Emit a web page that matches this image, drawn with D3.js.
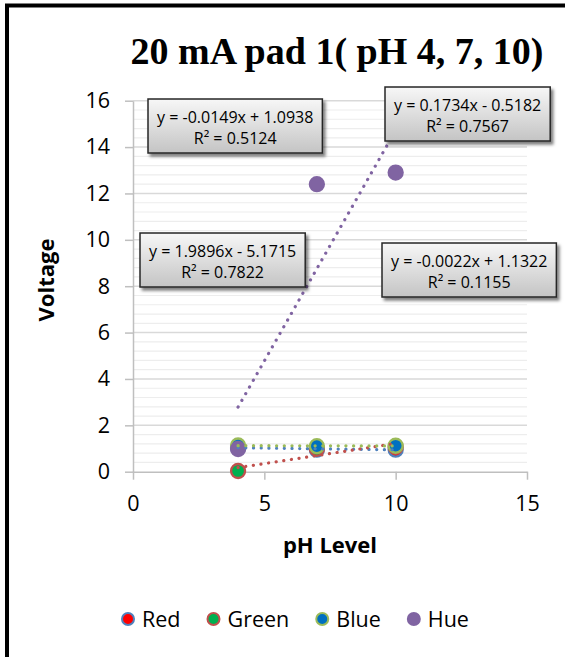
<!DOCTYPE html>
<html>
<head>
<meta charset="utf-8">
<script src="https://cdn.jsdelivr.net/npm/d3@7"></script>
<style>
  body { margin: 0; background: #fff; }
  text { font-family: "Open Sans", "Noto Sans", sans-serif; }
</style>
</head>
<body>
<div id="chart"></div>
<script>
// values
const phLevels = [4, 7, 10];
const seriesNames = ["Red", "Green", "Blue", "Hue"];
const redValues = [1.04, 0.95, 0.95];
const greenValues = [0.03, 0.99, 1.07];
const blueValues = [1.13, 1.10, 1.12];
const hueValues = [0.98, 12.4, 12.9];
// trendline coefficients as printed in the labels
const trendSlopes = [-0.0149, 0.1734, -0.0022, 1.9896];
const trendIntercepts = [1.0938, -0.5182, 1.1322, -5.1715];
const trendEquations = ["y = -0.0149x + 1.0938", "y = 0.1734x - 0.5182", "y = -0.0022x + 1.1322", "y = 1.9896x - 5.1715"];
const trendR2 = ["R² = 0.5124", "R² = 0.7567", "R² = 0.1155", "R² = 0.7822"];
const xTicks = [0, 5, 10, 15];
const yTicks = [0, 2, 4, 6, 8, 10, 12, 14, 16];

const fills = ["#ff0000", "#00b050", "#0070c0", "#8064a2"];
const outlines = ["#4f81bd", "#c0504d", "#9bbb59", "#8064a2"];
const trendColors = ["#4f81bd", "#c0504d", "#9bbb59", "#8064a2"];

const allValues = [redValues, greenValues, blueValues, hueValues];
const series = seriesNames.map((name, i) => ({
    name: name,
    i: i,
    points: phLevels.map((ph, j) => ({x: ph, y: allValues[i][j]}))
}));

const W = 565, H = 657;
const svg = d3.select("#chart").append("svg")
    .attr("width", W).attr("height", H);

const defs = svg.append("defs");
let grad = defs.append("linearGradient").attr("id", "boxfill")
    .attr("x1", 0).attr("y1", 0).attr("x2", 0).attr("y2", 1);
grad.append("stop").attr("offset", "0%").attr("stop-color", "#f7f7f7");
grad.append("stop").attr("offset", "100%").attr("stop-color", "#c4c4c4");
let shadow = defs.append("filter").attr("id", "shadow")
    .attr("x", "-10%").attr("y", "-10%").attr("width", "130%").attr("height", "140%");
shadow.append("feDropShadow").attr("dx", 2.5).attr("dy", 3).attr("stdDeviation", 1.8)
    .attr("flood-color", "#000").attr("flood-opacity", 0.5);

// chart frame
svg.append("rect")
    .attr("x", 7).attr("y", 5.5).attr("width", 700).attr("height", 800)
    .attr("fill", "none").attr("stroke", "#000").attr("stroke-width", 4);

let x = d3.scaleLinear().domain([0, 15]).range([133, 527]);
let y = d3.scaleLinear().domain([0, 16]).range([471.7, 100.7]);

// minor grid
svg.append("g")
    .selectAll("line")
    .data(d3.range(0, 16.01, 0.4).filter(v => Math.abs(v / 2 - Math.round(v / 2)) > 0.01))
    .enter().append("line")
    .attr("x1", x(0)).attr("x2", x(15))
    .attr("y1", d => y(d)).attr("y2", d => y(d))
    .attr("stroke", "#ededed").attr("stroke-width", 1.2);

// major grid
svg.append("g")
    .selectAll("line")
    .data(yTicks.slice(1))
    .enter().append("line")
    .attr("x1", x(0)).attr("x2", x(15))
    .attr("y1", d => y(d)).attr("y2", d => y(d))
    .attr("stroke", "#d9d9d9").attr("stroke-width", 1.5);

// axes
let yAxis = svg.append("g")
    .attr("transform", "translate(" + x(0) + ",0)")
    .call(d3.axisLeft(y).tickValues(yTicks).tickSize(8).tickPadding(15).tickSizeOuter(0));
let xAxis = svg.append("g")
    .attr("transform", "translate(0," + y(0) + ")")
    .call(d3.axisBottom(x).tickValues(xTicks).tickSize(8).tickPadding(16).tickSizeOuter(0));
[xAxis, yAxis].forEach(a => {
    a.selectAll("path, line").attr("stroke", "#bfbfbf").attr("stroke-width", 1.5);
    a.selectAll("text").attr("font-size", 21.5).attr("fill", "#000")
        .style("font-family", '"Open Sans", sans-serif');
});

// markers
series.forEach(s => {
    svg.append("g").selectAll("circle")
        .data(s.points)
        .enter().append("circle")
        .attr("cx", d => x(d.x)).attr("cy", d => y(d.y))
        .attr("r", 7)
        .attr("fill", fills[s.i])
        .attr("stroke", outlines[s.i]).attr("stroke-width", 2.3);
});

// trendlines over the data range
series.forEach(s => {
    let x0 = d3.min(phLevels), x1 = d3.max(phLevels);
    svg.append("line")
        .attr("x1", x(x0)).attr("y1", y(trendSlopes[s.i] * x0 + trendIntercepts[s.i]))
        .attr("x2", x(x1)).attr("y2", y(trendSlopes[s.i] * x1 + trendIntercepts[s.i]))
        .attr("stroke", trendColors[s.i]).attr("stroke-width", 3.2)
        .attr("stroke-linecap", "round")
        .attr("stroke-dasharray", "0.1 7.6");
});

// trendline labels
const labelPos = [[148, 99], [385, 87], [382, 243], [140, 233]];
series.forEach(s => {
    let g = svg.append("g").attr("transform", "translate(" + labelPos[s.i][0] + "," + labelPos[s.i][1] + ")");
    let r = g.append("rect").attr("height", 54)
        .attr("fill", "url(#boxfill)").attr("stroke", "#262626").attr("stroke-width", 1.5)
        .attr("filter", "url(#shadow)");
    let t1 = g.append("text").attr("y", 24).attr("font-size", 16).attr("text-anchor", "middle")
        .text(trendEquations[s.i]);
    let t2 = g.append("text").attr("y", 45).attr("font-size", 16).attr("text-anchor", "middle")
        .text(trendR2[s.i]);
    let bw = t1.node().getComputedTextLength() + 18;
    r.attr("width", bw);
    t1.attr("x", bw / 2);
    t2.attr("x", bw / 2);
});

// title
svg.append("text")
    .attr("x", 337).attr("y", 64)
    .attr("text-anchor", "middle")
    .style("font-family", '"Liberation Serif", "Times New Roman", serif')
    .attr("font-size", 38).attr("font-weight", "bold")
    .text("20 mA pad 1( pH 4, 7, 10)");

// axis titles
svg.append("text")
    .attr("x", 330).attr("y", 553)
    .attr("text-anchor", "middle")
    .attr("font-size", 22).attr("font-weight", "bold")
    .text("pH Level");
svg.append("text")
    .attr("transform", "translate(54,280) rotate(-90)")
    .attr("text-anchor", "middle")
    .attr("font-size", 22).attr("font-weight", "bold")
    .text("Voltage");

// legend
let legend = svg.append("g").attr("transform", "translate(0,619)");
let lx = 121;
series.forEach(s => {
    legend.append("circle")
        .attr("cx", lx + 7).attr("cy", 0).attr("r", 6)
        .attr("fill", fills[s.i]).attr("stroke", outlines[s.i]).attr("stroke-width", 2);
    let t = legend.append("text")
        .attr("x", lx + 21).attr("dy", "0.36em")
        .attr("font-size", 21.5)
        .text(s.name);
    lx += 21 + t.node().getComputedTextLength() + 26;
});
</script>
</body>
</html>
